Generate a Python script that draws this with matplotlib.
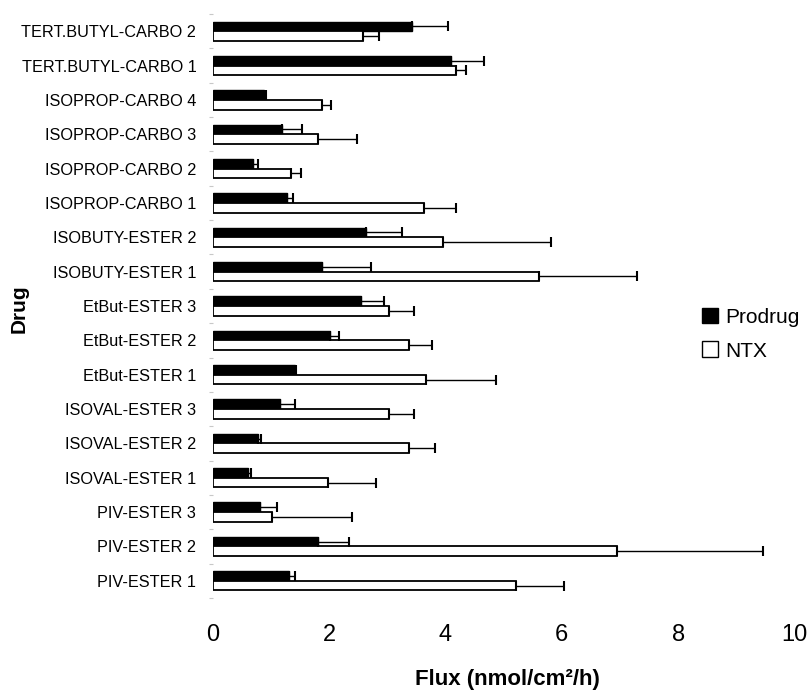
import numpy as np
import matplotlib
matplotlib.use("Agg")
import matplotlib.pyplot as plt
from matplotlib.patches import Patch

plt.rcParams['font.family'] = ['Liberation Sans', 'DejaVu Sans']

# -------------------------------
# Data (bottom to top)
# -------------------------------
drugs = ["PIV-ESTER 1", "PIV-ESTER 2", "PIV-ESTER 3",
         "ISOVAL-ESTER 1", "ISOVAL-ESTER 2", "ISOVAL-ESTER 3",
         "EtBut-ESTER 1", "EtBut-ESTER 2", "EtBut-ESTER 3",
         "ISOBUTY-ESTER 1", "ISOBUTY-ESTER 2",
         "ISOPROP-CARBO 1", "ISOPROP-CARBO 2", "ISOPROP-CARBO 3", "ISOPROP-CARBO 4",
         "TERT.BUTYL-CARBO 1", "TERT.BUTYL-CARBO 2"]

prodrug = [1.31, 1.80, 0.81, 0.61, 0.78, 1.16, 1.41, 2.02, 2.54, 1.88, 2.64,
           1.28, 0.68, 1.19, 0.88, 4.10, 3.42]
prodrug_sd = [0.10, 0.54, 0.29, 0.04, 0.04, 0.25, 0.01, 0.15, 0.40, 0.84, 0.61,
              0.09, 0.09, 0.34, 0.03, 0.57, 0.62]

ntx = [5.22, 6.95, 1.01, 1.98, 3.38, 3.03, 3.66, 3.38, 3.03, 5.61, 3.96,
       3.63, 1.34, 1.81, 1.87, 4.18, 2.58]
ntx_sd = [0.82, 2.51, 1.38, 0.82, 0.44, 0.43, 1.20, 0.39, 0.43, 1.69, 1.85,
          0.55, 0.17, 0.66, 0.16, 0.17, 0.28]

xticks = [0, 2, 4, 6, 8, 10]

# -------------------------------
# Plot
# -------------------------------
fig = plt.figure(figsize=(8.12, 6.91), dpi=100)
ax = fig.add_axes([0.2623, 0.1346, 0.716, 0.8451])

y = np.arange(len(drugs))
h = 0.28
zeros = np.zeros(len(drugs))

ax.barh(y + h / 2, prodrug, height=h, color="black", edgecolor="black",
        linewidth=1.0, zorder=2)
ax.barh(y - h / 2, ntx, height=h, color="white", edgecolor="black",
        linewidth=1.3, zorder=2)

err_kw = dict(fmt="none", ecolor="black", elinewidth=1.0, capsize=3.3,
              capthick=1.5, zorder=3)
ax.errorbar(prodrug, y + h / 2, xerr=[zeros, prodrug_sd], **err_kw)
ax.errorbar(ntx, y - h / 2, xerr=[zeros, ntx_sd], **err_kw)

ax.set_xlim(0, 10)
ax.set_ylim(-0.5, len(drugs) - 0.5)
ax.set_xticks(xticks)
ax.set_xticklabels([str(t) for t in xticks], fontsize=17)
ax.set_yticks(y)
ax.set_yticklabels(drugs, fontsize=11.7)
ax.tick_params(axis="x", length=0, pad=19)
ax.tick_params(axis="y", length=0, pad=12)

# faint boundary ticks on the category axis
ax.set_yticks(np.arange(len(drugs) + 1) - 0.5, minor=True)
ax.tick_params(axis="y", which="minor", length=3, color="#c8c8c8", width=0.8)

for s in ax.spines.values():
    s.set_visible(False)

ax.set_xlabel("Flux (nmol/cm²/h)", fontsize=16, fontweight="bold", va="center")
ax.xaxis.set_label_coords(0.506, -0.139)
ax.set_ylabel("Drug", fontsize=15, fontweight="bold", va="center")
ax.yaxis.set_label_coords(-0.333, 0.495)

handles = [Patch(facecolor="black", edgecolor="black", label="Prodrug"),
           Patch(facecolor="white", edgecolor="black", label="NTX")]
fig.legend(handles=handles, loc="center left", bbox_to_anchor=(0.864, 0.5166),
           frameon=False, fontsize=15, handlelength=0.8, handleheight=0.8,
           handletextpad=0.35, labelspacing=0.7, borderpad=0, borderaxespad=0)

plt.savefig("out.png", dpi=100)
